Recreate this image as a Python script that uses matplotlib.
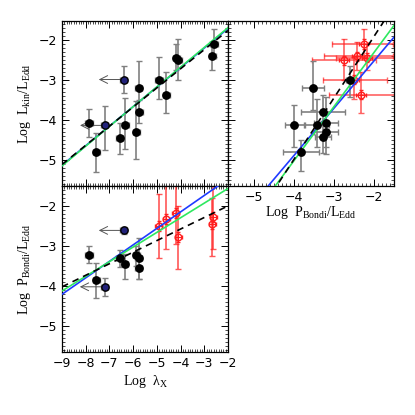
import numpy as np
import matplotlib
matplotlib.use('Agg')
import matplotlib.pyplot as plt
from matplotlib.ticker import MultipleLocator

plt.rcParams['font.family'] = ['Liberation Serif', 'DejaVu Serif']
plt.rcParams['mathtext.fontset'] = 'custom'
plt.rcParams['mathtext.rm'] = 'Liberation Serif'
plt.rcParams['mathtext.it'] = 'Liberation Serif'

# Panel a: log lambda_X vs log Lkin/LEdd
a_x = [-7.86, -7.55, -7.19, -6.40, -6.57, -6.33, -5.87, -5.77, -5.75, -4.91, -4.61, -4.18, -4.09, -2.66, -2.59]
a_y = [-4.07, -4.79, -4.13, -2.98, -4.44, -4.12, -4.29, -3.19, -3.79, -2.98, -3.36, -2.43, -2.50, -2.40, -2.09]
a_yhi = [0.34, 0.46, 0.48, 0.34, 0.36, 0.68, 0.77, 0.67, 0.29, 0.56, 0.57, 0.35, 0.54, 0.36, 0.37]
a_ylo = [0.35, 0.50, 0.62, 0.35, 0.41, 0.59, 0.69, 0.56, 0.29, 0.50, 0.46, 0.32, 0.48, 0.35, 0.33]
a_lim = [2, 3]

# Panel b: log PBondi/LEdd vs log Lkin/LEdd
b_x = [-3.52, -3.28, -3.42, -3.20, -3.20, -3.28, -3.99, -3.83, -2.61]
b_y = [-3.19, -3.79, -4.12, -4.07, -4.29, -4.43, -4.12, -4.79, -2.98]
b_xerr = [0.27, 0.55, 0.30, 0.30, 0.30, 0.20, 0.23, 0.45, 0.10]
b_yhi = [0.67, 0.42, 0.66, 0.65, 0.50, 0.40, 0.50, 0.30, 0.35]
b_ylo = [0.56, 0.30, 0.54, 0.60, 0.55, 0.40, 0.54, 0.48, 0.44]
b_rx = [-2.26, -2.43, -2.17, -2.75, -2.49, -2.32]
b_ry = [-2.09, -2.40, -2.43, -2.50, -2.98, -3.36]
b_rxlo = [0.80, 0.81, 0.78, 0.80, 0.78, 0.80]
b_rxhi = [0.73, 0.90, 0.80, 0.81, 0.82, 0.90]
b_ryhi = [0.37, 0.36, 0.35, 0.54, 0.56, 0.57]
b_rylo = [0.33, 0.35, 0.32, 0.48, 0.50, 0.46]

# Panel c: log lambda_X vs log PBondi/LEdd
c_x = [-7.86, -7.55, -7.20, -6.40, -6.57, -6.36, -5.87, -5.77, -5.77]
c_y = [-3.22, -3.85, -4.02, -2.61, -3.31, -3.44, -3.22, -3.31, -3.54]
c_yhi = [0.23, 0.43, 0.22, 0.08, 0.21, 0.24, 0.22, 0.52, 0.25]
c_ylo = [0.20, 0.44, 0.23, 0.08, 0.21, 0.39, 0.28, 0.52, 0.29]
c_lim = [2, 3]
c_rx = [-4.92, -4.60, -4.20, -4.10, -2.63, -2.67]
c_ry = [-2.50, -2.33, -2.18, -2.77, -2.27, -2.46]
c_ryhi = [0.79, 0.90, 0.90, 0.77, 0.90, 0.67]
c_rylo = [0.79, 0.75, 0.78, 0.81, 0.81, 0.79]

# fits (slope, intercept): blue, green, dashed black
a_fits = [(0.490, -0.720), (0.495, -0.690), (0.480, -0.790)]
b_fits = [(1.186, -0.140), (1.356, 0.410), (1.540, 1.180)]
c_fits = [(0.412, -0.500), (0.366, -0.830), (0.289, -1.420)]

lims = (-5.65, -1.5)
BLUE = '#1f3bff'
GREEN = '#2ee860'
RED = '#ff2020'
GRAY = '#808080'
NAVY = '#22227a'


def style(ax, xlim, xmaj):
    ax.set_xlim(xlim)
    ax.set_ylim(lims)
    ax.xaxis.set_major_locator(MultipleLocator(xmaj))
    ax.xaxis.set_minor_locator(MultipleLocator(0.1))
    ax.yaxis.set_major_locator(MultipleLocator(1))
    ax.yaxis.set_minor_locator(MultipleLocator(0.1))
    ax.tick_params(which='both', direction='in', top=True, right=True,
                   labelsize=10)
    ax.tick_params(which='major', length=5, width=0.7)
    ax.tick_params(which='minor', length=2.5, width=0.5)
    for lab in ax.get_xticklabels() + ax.get_yticklabels():
        lab.set_family('DejaVu Sans')
        lab.set_fontsize(9)
    for s in ax.spines.values():
        s.set_linewidth(0.9)


def fits(ax, fl, xlim):
    xx = np.array(xlim)
    cols = [BLUE, GREEN, 'black']
    for (m, q), c in zip(fl, cols):
        ls = '--' if c == 'black' else '-'
        ax.plot(xx, m * xx + q, color=c, lw=1.2, ls=ls, zorder=5,
                dashes=(4, 3) if ls == '--' else (None, None))


def black_pts(ax, x, y, ylo, yhi, xerr, limits):
    ax.errorbar(x, y, yerr=[ylo, yhi], xerr=xerr, fmt='none', ecolor=GRAY,
                elinewidth=1.2, capsize=2, capthick=1, zorder=3)
    for i in range(len(x)):
        fc = NAVY if i in limits else 'black'
        ax.plot(x[i], y[i], 'o', ms=5.3, mfc=fc, mec='black', zorder=6)
        if i in limits:
            ax.annotate('', xy=(x[i] - 1.05, y[i]), xytext=(x[i], y[i]),
                        arrowprops=dict(arrowstyle='->', color='#555555', lw=0.7,
                                        mutation_scale=14, shrinkA=0, shrinkB=0),
                        zorder=4)


fig = plt.figure(figsize=(4.15, 4.15), dpi=100)
ax_a = fig.add_axes([62 / 415, 1 - 186 / 415, 166 / 415, 165.5 / 415])
ax_b = fig.add_axes([228 / 415, 1 - 186 / 415, 166 / 415, 165.5 / 415])
ax_c = fig.add_axes([62 / 415, 1 - 352 / 415, 166 / 415, 166 / 415])

# panel a
style(ax_a, (-9, -2), 1)
fits(ax_a, a_fits, (-9, -2))
black_pts(ax_a, a_x, a_y, a_ylo, a_yhi, 0.15, a_lim)
ax_a.set_xticklabels([])
ax_a.set_ylabel(r'Log  L$_{\rm kin}$/L$_{\rm Edd}$', fontsize=10, labelpad=4)

# panel b
style(ax_b, lims, 1)
ax_b.errorbar(b_rx, b_ry, xerr=[b_rxlo, b_rxhi], yerr=[b_rylo, b_ryhi], fmt='none',
              ecolor=RED, alpha=0.7, elinewidth=1.2, capsize=2, capthick=1, zorder=2)
ax_b.errorbar(b_rx, b_ry, xerr=0.12, yerr=0.12, fmt='o', ms=4.8, mfc='none', mec=RED,
              ecolor=RED, elinewidth=0.8, capsize=1.5, zorder=2)
fits(ax_b, b_fits, lims)
black_pts(ax_b, b_x, b_y, b_ylo, b_yhi, b_xerr, [])
ax_b.set_yticklabels([])
ax_b.set_xlabel(r'Log  P$_{\rm Bondi}$/L$_{\rm Edd}$', fontsize=10, labelpad=0)

# panel c
style(ax_c, (-9, -2), 1)
ax_c.errorbar(c_rx, c_ry, yerr=[c_rylo, c_ryhi], fmt='none', ecolor=RED, alpha=0.75,
              elinewidth=1.2, capsize=2, capthick=1, zorder=2)
ax_c.errorbar(c_rx, c_ry, xerr=0.15, yerr=0.12, fmt='o', ms=4.8, mfc='none', mec=RED,
              ecolor=RED, elinewidth=0.8, capsize=1.5, zorder=2)
fits(ax_c, c_fits, (-9, -2))
black_pts(ax_c, c_x, c_y, c_ylo, c_yhi, 0.15, c_lim)
ax_c.set_ylabel(r'Log  P$_{\rm Bondi}$/L$_{\rm Edd}$', fontsize=10, labelpad=4)
ax_c.set_xlabel(r'Log  $\lambda_{\rm X}$', fontsize=10, labelpad=2)

fig.savefig('out.png', dpi=100)
